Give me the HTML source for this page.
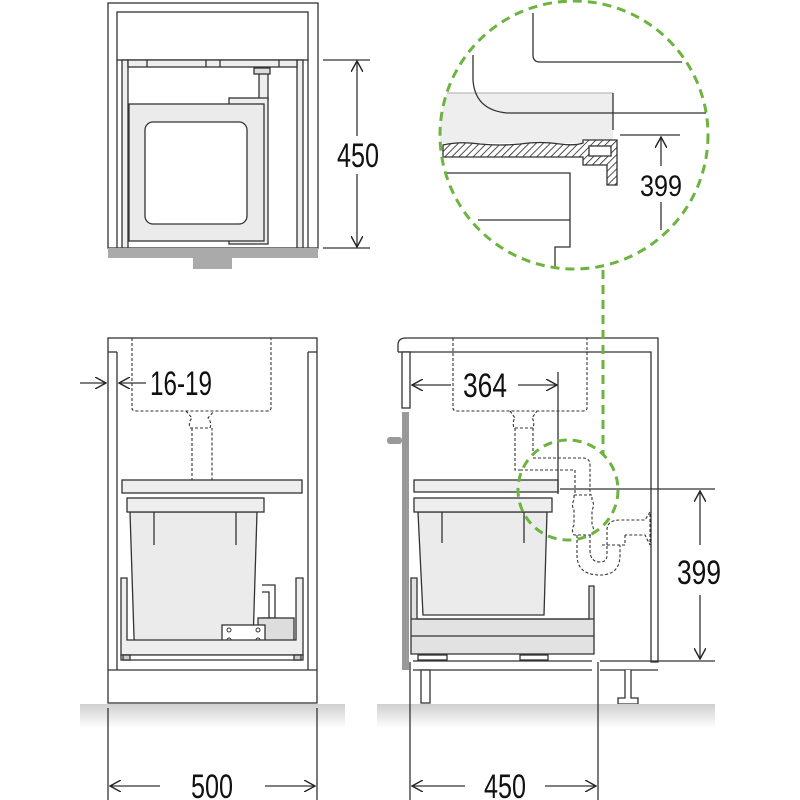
<!DOCTYPE html>
<html><head><meta charset="utf-8"><style>
html,body{margin:0;padding:0;background:#fff}
svg{display:block}
text{font-family:"Liberation Sans",sans-serif;fill:#111}
</style></head><body>
<svg width="800" height="800" viewBox="0 0 800 800" xmlns="http://www.w3.org/2000/svg">
<defs>
<linearGradient id="gnd" x1="0" y1="0" x2="0" y2="1">
<stop offset="0" stop-color="#cfcfcf"/><stop offset="1" stop-color="#fff"/></linearGradient>
<pattern id="hatch" width="5" height="5" patternUnits="userSpaceOnUse" patternTransform="rotate(45)">
<rect width="5" height="5" fill="#fff"/><line x1="0" y1="0" x2="0" y2="5" stroke="#222" stroke-width="1.6"/></pattern>
<clipPath id="bigc"><circle cx="574" cy="135" r="134"/></clipPath>
<marker id="ah" viewBox="0 0 12 12" refX="11" refY="6" markerWidth="12" markerHeight="12" markerUnits="userSpaceOnUse" orient="auto-start-reverse">
<path d="M0,0 L11,6 L0,12" fill="none" stroke="#222" stroke-width="1.4"/></marker>
</defs>
<g fill="none" stroke="#333" stroke-width="1.3">

<rect x="108" y="3" width="210" height="245"/>
<rect x="117" y="12" width="191" height="48"/>
<line x1="117" y1="60" x2="117" y2="248"/><line x1="308" y1="60" x2="308" y2="248"/>
<rect x="122" y="60" width="6" height="188" fill="#eee"/>
<rect x="297" y="60" width="6" height="188" fill="#eee"/>
<rect x="128" y="60" width="169" height="7" fill="#eee"/>
<line x1="147" y1="60" x2="147" y2="67"/><line x1="206" y1="60" x2="206" y2="67"/><line x1="220" y1="60" x2="220" y2="67"/><line x1="279" y1="60" x2="279" y2="67"/>
<rect x="259" y="73" width="9" height="27" fill="#eee"/>
<rect x="254" y="68" width="16" height="6" fill="#ddd"/>
<rect x="229" y="98" width="39" height="146" fill="#eee"/>
<rect x="129" y="104" width="135" height="137" fill="#ebebeb"/>
<rect x="145" y="122" width="102" height="102" rx="8" fill="#fff"/>
<rect x="108" y="248" width="210" height="10" fill="#aaa" stroke="none"/>
<rect x="193" y="258" width="39" height="11" fill="#aaa" stroke="none"/>
<line x1="323" y1="60" x2="370" y2="60"/><line x1="323" y1="248" x2="370" y2="248"/>
<line x1="357" y1="61" x2="357" y2="136" marker-start="url(#ah)"/>
<line x1="357" y1="174" x2="357" y2="247" marker-end="url(#ah)"/>

<rect x="108" y="338" width="209" height="365"/>
<line x1="108" y1="352" x2="117" y2="352"/><line x1="308" y1="352" x2="317" y2="352"/>
<line x1="117" y1="352" x2="117" y2="670"/><line x1="308" y1="352" x2="308" y2="670"/>
<line x1="108" y1="670" x2="317" y2="670"/>
<g stroke-dasharray="3,2" stroke-width="1.1">
<path d="M132,338 V408 Q132,411 136,411 H267 Q271,411 271,408 V338"/>
<path d="M186,411 L192,418 Q188,422 190,428 H210 Q212,422 208,418 L214,411"/>
<path d="M192,428 V480 Q196,485 204,485 Q210,485 212,480 V428"/>
</g>
<rect x="122" y="480" width="180" height="13" fill="#eee"/>
<path d="M130,512 L257,512 L253,643 L140,643 Q134,643 134,637 Z" fill="#ebebeb"/>
<rect x="127" y="498" width="137" height="14" fill="#eee"/>
<line x1="154" y1="512" x2="154" y2="545"/><line x1="236" y1="512" x2="236" y2="545"/>
<path d="M261,618 H275 V585 H262 M269,618 V592 H262"/>
<rect x="258" y="618" width="36" height="24" fill="#ddd"/>
<rect x="222" y="625" width="43" height="20" fill="#fff"/>
<g fill="#fff" stroke-width="1"><circle cx="229" cy="630" r="2"/><circle cx="258" cy="630" r="2"/><circle cx="229" cy="640" r="2"/><circle cx="258" cy="640" r="2"/></g>
<path d="M121,578 H127 V640 H296 V578 H303 V655 H121 Z" fill="#eee"/>
<path d="M121,655 H303 V660 H121 Z" fill="#fff"/>
<rect x="123" y="655" width="7" height="5" fill="#ccc"/><rect x="294" y="655" width="7" height="5" fill="#ccc"/>
<line x1="80" y1="383" x2="106" y2="383" marker-end="url(#ah)"/>
<line x1="146" y1="383" x2="119" y2="383" marker-end="url(#ah)"/>

<path d="M398,352 V345 Q398,338 406,338 H658 V662 H651 V352 H410"/>
<line x1="398" y1="352" x2="410" y2="352"/>
<rect x="402" y="352" width="8" height="56" fill="#fff"/>
<rect x="402" y="412" width="7" height="258" fill="#999" stroke="none"/>
<rect x="387" y="437" width="15" height="7" rx="3" fill="#999" stroke="none"/>
<g stroke-dasharray="3,2" stroke-width="1.1">
<path d="M453,338 V408 Q453,411 457,411 H583 Q587,411 587,408 V338"/>
<path d="M510,411 L515,418 Q512,422 514,428 H533 Q535,422 532,418 L537,411"/>
<path d="M515,428 V470 H520 M533,428 V458 H583 Q590,458 590,465 V495 M575,470 V495 M520,470 H575"/>
<path d="M574,495 H592 V500 Q595,505 592,510 V525 Q595,530 592,535 H574 Q571,530 574,525 V510 Q571,505 574,500 Z"/>
<path d="M577,535 V555 Q577,575 600,575 Q620,575 620,555 V545 M590,535 V550 Q590,562 600,562 Q607,562 607,555 V545"/>
<path d="M602,545 H625 V535 M607,545 V530 Q607,520 620,520 H645 L650,512 V545 L645,535 H625"/>
</g>
<rect x="414" y="480" width="144" height="12" fill="#eee"/>
<path d="M418,512 H547 L544,615 H423 Z" fill="#ebebeb"/>
<rect x="414" y="498" width="138" height="14" fill="#eee"/>
<line x1="442" y1="512" x2="442" y2="543"/><line x1="524" y1="512" x2="524" y2="543"/>
<path d="M411,578 H417 V619 H589 V586 H594 V654 H411 Z" fill="#e2e2e2"/>
<line x1="411" y1="619" x2="594" y2="619"/><line x1="411" y1="636" x2="594" y2="636"/>
<rect x="418" y="655" width="29" height="5" fill="#fff"/><rect x="520" y="655" width="28" height="5" fill="#fff"/>
<line x1="413" y1="661" x2="592" y2="661"/><line x1="413" y1="670" x2="592" y2="670"/>
<line x1="600" y1="661" x2="655" y2="661"/><line x1="600" y1="670" x2="658" y2="670"/>
<rect x="421" y="670" width="9" height="33" fill="#fff"/>
<path d="M625,670 V698 H618 V704 H638 V698 H631 V670" fill="#fff"/>
<line x1="451" y1="385" x2="412" y2="385" marker-end="url(#ah)"/>
<line x1="518" y1="385" x2="557" y2="385" marker-end="url(#ah)"/>
<line x1="558" y1="372" x2="558" y2="494"/>
<line x1="560" y1="489" x2="715" y2="489"/><line x1="655" y1="661" x2="715" y2="661"/>
<line x1="700" y1="545" x2="700" y2="491" marker-end="url(#ah)"/>
<line x1="700" y1="595" x2="700" y2="659" marker-end="url(#ah)"/>
</g>

<rect x="80" y="704" width="265" height="24" fill="url(#gnd)"/>
<rect x="377" y="704" width="338" height="24" fill="url(#gnd)"/>
<g fill="none" stroke="#333" stroke-width="1.3">
<line x1="108" y1="708" x2="108" y2="800"/><line x1="317" y1="708" x2="317" y2="800"/>
<line x1="410" y1="662" x2="410" y2="800"/><line x1="598" y1="662" x2="598" y2="800"/>
<line x1="160" y1="786" x2="110" y2="786" marker-end="url(#ah)"/>
<line x1="265" y1="786" x2="315" y2="786" marker-end="url(#ah)"/>
<line x1="465" y1="786" x2="412" y2="786" marker-end="url(#ah)"/>
<line x1="545" y1="786" x2="596" y2="786" marker-end="url(#ah)"/>
</g>

<g clip-path="url(#bigc)" fill="none" stroke="#333" stroke-width="1.3">
<rect x="430" y="93" width="183" height="50" fill="#eee" stroke="none"/>
<line x1="440" y1="93" x2="613" y2="93" stroke="#bbb"/>
<line x1="613" y1="93" x2="613" y2="130"/>
<path d="M533,13 V55 Q533,62 540,62 H682"/>
<path d="M473,55 V80 Q475,110 507,113 H710"/>
<path d="M443,157 V145 Q460,141 480,144 Q500,146 520,144 Q540,141 560,144 Q575,146 583,143 V140 H617 V185 H607 V165 H583 V157 Z" fill="url(#hatch)"/>
<rect x="589" y="146" width="22" height="10" fill="#fff"/>
<path d="M430,173 H570 V220 H478 M570,220 V247 H555 V275"/>
<line x1="620" y1="135" x2="680" y2="135"/>
<line x1="661" y1="166" x2="661" y2="137" marker-end="url(#ah)"/>
<line x1="661" y1="202" x2="661" y2="230"/>
</g>
<g fill="none" stroke="#6cb33f" stroke-width="3" stroke-dasharray="9,6">
<circle cx="574" cy="135" r="134"/>
<circle cx="568" cy="490" r="50"/>
<line x1="603" y1="270" x2="603" y2="455"/>
</g>

<text x="358" y="167" font-size="34" text-anchor="middle" textLength="42" lengthAdjust="spacingAndGlyphs">450</text>
<text x="150" y="395" font-size="34" textLength="62" lengthAdjust="spacingAndGlyphs">16-19</text>
<text x="485" y="397" font-size="34" text-anchor="middle" textLength="44" lengthAdjust="spacingAndGlyphs">364</text>
<text x="699" y="584" font-size="34" text-anchor="middle" textLength="44" lengthAdjust="spacingAndGlyphs">399</text>
<text x="661" y="196" font-size="30" text-anchor="middle" textLength="42" lengthAdjust="spacingAndGlyphs">399</text>
<text x="212" y="798" font-size="34" text-anchor="middle" textLength="42" lengthAdjust="spacingAndGlyphs">500</text>
<text x="505" y="798" font-size="34" text-anchor="middle" textLength="42" lengthAdjust="spacingAndGlyphs">450</text>
</svg>
</body></html>
